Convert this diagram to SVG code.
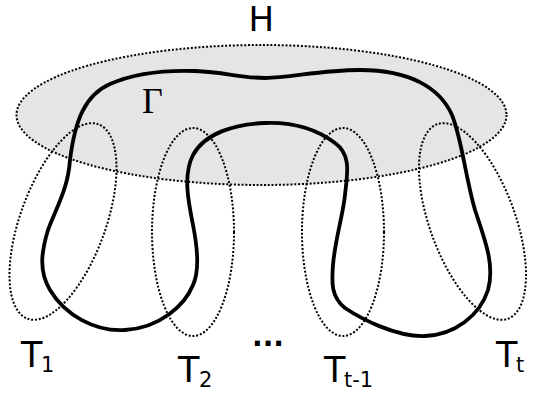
<svg xmlns="http://www.w3.org/2000/svg" width="536" height="394" viewBox="0 0 536 394">
<style>
.dot{fill:none;stroke:#000;stroke-width:2;stroke-dasharray:2 1.8}
.lbl{font-family:"DejaVu Sans",Verdana,sans-serif;font-size:35px;fill:#000}
.sub{font-size:21px}
.curve{fill:none;stroke:#000;stroke-width:3.8;stroke-linejoin:round}
</style>
<rect width="536" height="394" fill="#fff"/>
<g id="H">
<ellipse cx="261.5" cy="115" rx="245" ry="70" class="dot" style="fill:#e5e5e5"/>
<text class="lbl" x="261.2" y="30.5" text-anchor="middle" style="font-size:34px">H</text>
</g>
<g id="T1">
<ellipse class="dot" cx="63" cy="221.5" rx="42.7" ry="103.5" transform="rotate(20 63 221.5)"/>
<text class="lbl" x="21" y="367">T<tspan class="sub" x="41" dy="5">1</tspan></text>
</g>
<g id="T2">
<ellipse class="dot" cx="193" cy="232" rx="41" ry="104"/>
<text class="lbl" x="178" y="382">T<tspan class="sub" x="199" dy="5">2</tspan></text>
</g>
<g id="Tt-1">
<ellipse class="dot" cx="343" cy="232" rx="41" ry="104"/>
<text class="lbl" x="324" y="382">T<tspan class="sub" x="344" dy="5">t-1</tspan></text>
</g>
<g id="Tt">
<ellipse class="dot" cx="472.5" cy="221.5" rx="42.7" ry="103.5" transform="rotate(-20 472.5 221.5)"/>
<text class="lbl" x="496" y="367">T<tspan class="sub" x="516" dy="5">t</tspan></text>
</g>
<g id="Gamma">
<path class="curve" d="M70,160 C75,120 85,95 110,84 C135,73 165,70 195,71 C225,72 240,78 265,78 C290,78 320,70 360,70 C410,70 440,88 452,115 C462,140 465,175 475,210 C485,240 495,265 488,290 C480,315 455,335 425,336 C395,337 360,318 345,308 C330,296 332,280 333,265 C335,240 343,215 345,195 C347,175 352,155 335,143 C315,128 290,122 265,123 C235,124 205,133 193,155 C183,175 188,200 193,225 C197,245 200,270 193,285 C185,305 160,328 125,330 C95,332 65,315 50,290 C38,270 42,250 48,230 C55,210 68,190 70,160 Z"/>
<text x="142" y="113" style="font-family:'Liberation Serif','Times New Roman',serif;font-size:36px">Γ</text>
</g>
<g id="ellipsis">
<text x="252" y="346" style="font-family:'DejaVu Sans',Verdana,sans-serif;font-size:28px;font-weight:bold">...</text>
</g>
</svg>
